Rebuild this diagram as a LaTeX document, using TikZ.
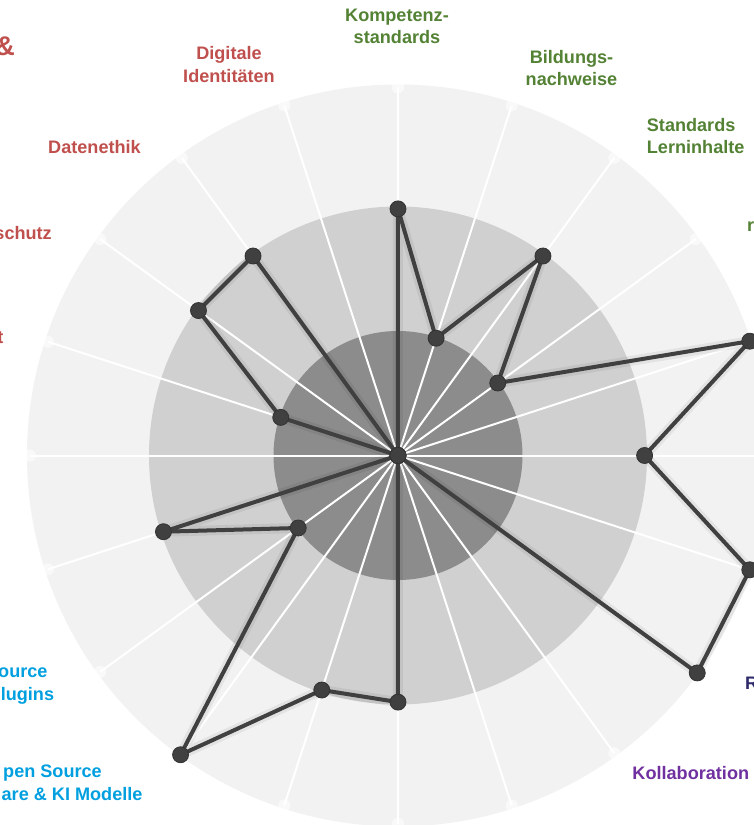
\documentclass[tikz,border=0pt]{standalone}
\usepackage{fontspec}
\setmainfont{Liberation Sans}
\usepackage{tikz}
\usetikzlibrary{positioning}
\definecolor{ringouter}{HTML}{F2F2F2}
\definecolor{ringmid}{HTML}{D0D0D0}
\definecolor{ringinner}{HTML}{8C8C8C}
\definecolor{lineGray}{HTML}{404040}
\definecolor{labelRed}{HTML}{C0504D}
\definecolor{labelGreen}{HTML}{548235}
\definecolor{labelBlue}{HTML}{00A0E0}
\definecolor{labelPurple}{HTML}{7030A0}
\definecolor{labelNavy}{HTML}{2E2A6B}
\tikzstyle{axislabel} = [inner sep=0pt, align=center, font=\bfseries\fontsize{18.1}{22.5}\selectfont]
\tikzstyle{grouptitle} = [inner sep=0pt, font=\bfseries\fontsize{27}{32}\selectfont]
\tikzstyle{spoke} = [white, line width=2pt]
\tikzstyle{spokeend} = [circle, fill=white, fill opacity=0.6, minimum size=12pt, inner sep=0pt]
\tikzstyle{dataline} = [lineGray, line width=4pt, line join=round]
\tikzstyle{datashadow} = [black, opacity=0.06, line width=10pt, line join=round]
\tikzstyle{datapoint} = [circle, fill=lineGray, draw=black!80, line width=0.8pt, minimum size=16pt, inner sep=0pt]

\begin{document}
\begin{tikzpicture}[x=1pt, y=1pt]
        \useasboundingbox (-398,-369.5) rectangle (356,455.5);
        \fill [white] (-398,-369.5) rectangle (356,455.5);
        % rings
        \fill [ringouter] (0,0) circle (371);
        \fill [ringmid] (0,0) circle (249);
        \fill [ringinner] (0,0) circle (124.5);
        % spokes
        \foreach \i in {0,...,19} {
            \coordinate (end\i) at ({90-18*\i}:368);
            \draw [spoke] (0,0) -- (end\i);
            \node (tip\i) [spokeend] at (end\i) {};
        }
        % data
        \foreach \v [count=\i from 0] in {2,1,2,1,3,2,3,3,0,0,2,2,3,1,2,0,1,2,2,0}
            \coordinate (p\i) at ({90-18*\i}:{\v*123.3});
        \draw [datashadow, xshift=2pt, yshift=-4pt] (p0) \foreach \i in {1,...,19} { -- (p\i) } -- cycle;
        \draw [dataline] (p0) \foreach \i in {1,...,19} { -- (p\i) } -- cycle;
        \foreach \i in {0,...,19}
            \node (dot\i) [datapoint] at (p\i) {};
        % labels
        \node (kompetenz) [axislabel, text=labelGreen] at (-1,429.2) {Kompetenz-\\standards};
        \node (bildung) [axislabel, text=labelGreen] at (173.5,387.5) {Bildungs-\\nachweise};
        \node (lerninhalte) [axislabel, text=labelGreen, anchor=west, align=left] at (248.7,319.5) {Standards\\Lerninhalte};
        \node (rechts) [axislabel, text=labelGreen, anchor=west] at (349,228.5) {r};
        \node (identitaet) [axislabel, text=labelRed] at (-169,391) {Digitale\\Identitäten};
        \node (ethik) [axislabel, text=labelRed] at (-303.5,308.5) {Datenethik};
        \node (schutz) [axislabel, text=labelRed, anchor=east] at (-346,222.8) {schutz};
        \node (sicher) [axislabel, text=labelRed, anchor=east] at (-394.5,117.5) {t};
        \node (amp) [grouptitle, text=labelRed, anchor=east] at (-383,409.5) {\&};
        \node (rand) [axislabel, text=labelNavy, anchor=west] at (347,-227.5) {R};
        \node (kollab) [axislabel, text=labelPurple] at (292.8,-317.2) {Kollaboration};
        \node (plugins) [axislabel, text=labelBlue, anchor=east] at (-350.3,-217.5) {ource};
        \node (plugins2) [axislabel, text=labelBlue, anchor=east] at (-343.7,-240.2) {lugins};
        \node (software) [axislabel, text=labelBlue, anchor=east] at (-296,-317.5) {pen Source};
        \node (software2) [axislabel, text=labelBlue, anchor=east] at (-255.3,-338.5) {are \& KI Modelle};
    \end{tikzpicture}
\end{document}
